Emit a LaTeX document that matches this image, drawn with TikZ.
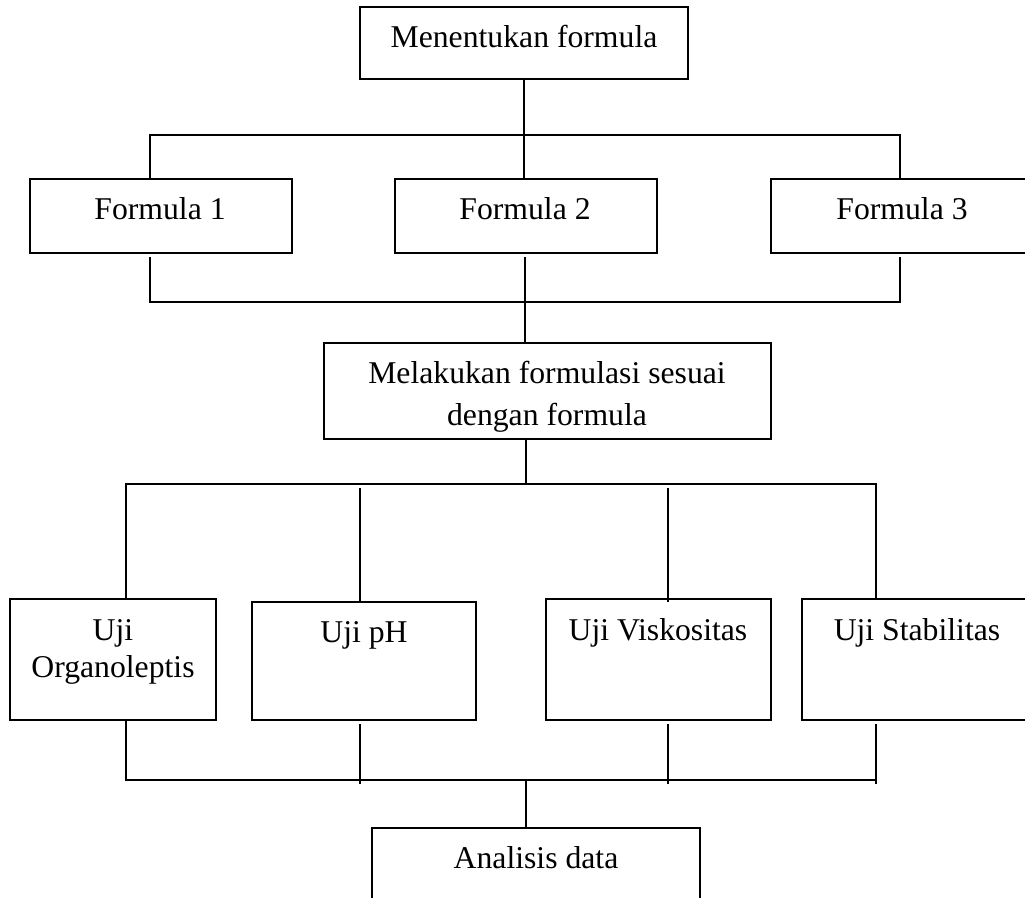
\documentclass[tikz,border=0pt]{standalone}
\usepackage{fontspec}
\setmainfont{Liberation Serif}
\begin{document}
\begin{tikzpicture}[x=1pt,y=-1pt,
  box/.style={draw,line width=2.2pt,rectangle,inner sep=0pt},
  lbl/.style={inner sep=0pt,anchor=base,font=\fontsize{31.7}{38}\selectfont},
  conn/.style={line width=1.8pt}]
\useasboundingbox (0,0) rectangle (1025,897);
\clip (0,0) rectangle (1025,897);
% boxes
\node[box,minimum width=328pt,minimum height=72pt] (m) at (524,43) {};
\node[box,minimum width=262pt,minimum height=74pt] (f1) at (161,216) {};
\node[box,minimum width=262pt,minimum height=74pt] (f2) at (526,216) {};
\node[box,minimum width=262pt,minimum height=74pt] (f3) at (902,216) {};
\node[box,minimum width=447pt,minimum height=96pt] (mel) at (547.5,391) {};
\node[box,minimum width=206pt,minimum height=121pt] (u1) at (113,659.5) {};
\node[box,minimum width=224pt,minimum height=118pt] (u2) at (364,661) {};
\node[box,minimum width=225pt,minimum height=121pt] (u3) at (658.5,659.5) {};
\node[box,minimum width=230pt,minimum height=121pt] (u4) at (917,659.5) {};
\node[box,minimum width=328pt,minimum height=102pt] (a) at (536,879) {};
% texts
\node[lbl] (mT) at (524,47) {Menentukan formula};
\node[lbl] (f1T) at (160,219) {Formula 1};
\node[lbl] (f2T) at (525,219) {Formula 2};
\node[lbl] (f3T) at (902,219) {Formula 3};
\node[lbl] (melT1) at (547,383) {Melakukan formulasi sesuai};
\node[lbl] (melT2) at (547,425) {dengan formula};
\node[lbl] (u1T1) at (113,640) {Uji};
\node[lbl] (u1T2) at (113,677) {Organoleptis};
\node[lbl] (u2T) at (364,642) {Uji pH};
\node[lbl] (u3T) at (658,640) {Uji Viskositas};
\node[lbl] (u4T) at (917,640) {Uji Stabilitas};
\node[lbl] (aT) at (536,868) {Analisis data};
% connector points
\coordinate (tl) at (150,135);
\coordinate (tr) at (900,135);
\coordinate (f1in) at (150,179);
\coordinate (f3in) at (900,179);
\coordinate (f1out) at (150,257);
\coordinate (f2out) at (525,257);
\coordinate (f3out) at (900,257);
\coordinate (bl) at (150,302);
\coordinate (br) at (900,302);
\coordinate (melin) at (525,343);
\coordinate (melout) at (526,439);
\coordinate (hj) at (526,484);
\coordinate (hl) at (126,484);
\coordinate (hr) at (876,484);
\coordinate (u1in) at (126,599);
\coordinate (u4in) at (876,599);
\coordinate (u2a) at (360,488);
\coordinate (u2in) at (360,602);
\coordinate (u3a) at (668,488);
\coordinate (u3in) at (668,602);
\coordinate (u1out) at (126,720);
\coordinate (ll) at (126,780);
\coordinate (lr) at (876,780);
\coordinate (u4out) at (876,724);
\coordinate (u4end) at (876,784);
\coordinate (u2out) at (360,724);
\coordinate (u2end) at (360,784);
\coordinate (u3out) at (668,724);
\coordinate (u3end) at (668,784);
\coordinate (lj) at (526,780);
\coordinate (ain) at (526,828);
% connectors
\draw[conn] (m.south) -- (m.south |- f2.north);
\draw[conn] (f1in) -- (tl) -- (tr) -- (f3in);
\draw[conn] (f1out) -- (bl) -- (br) -- (f3out);
\draw[conn] (f2out) -- (melin);
\draw[conn] (melout) -- (hj);
\draw[conn] (u1in) -- (hl) -- (hr) -- (u4in);
\draw[conn] (u2a) -- (u2in);
\draw[conn] (u3a) -- (u3in);
\draw[conn] (u1out) -- (ll) -- (lr);
\draw[conn] (u4out) -- (u4end);
\draw[conn] (u2out) -- (u2end);
\draw[conn] (u3out) -- (u3end);
\draw[conn] (lj) -- (ain);
\end{tikzpicture}
\end{document}
